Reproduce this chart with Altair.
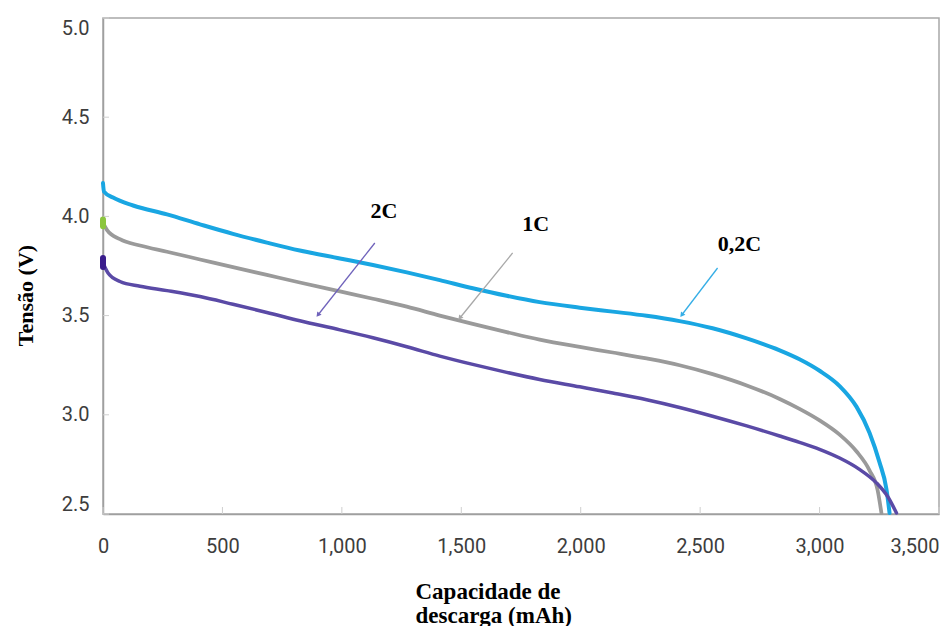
import math
import altair as alt
import pandas as pd

# Plot area and axis ranges
W, H = 836, 496
X_MAX, Y_MIN, Y_MAX = 3500, 2.5, 5.0

SERIES = ["0,2C", "1C", "2C"]
COLORS = ["#19a6e2", "#9a9a9a", "#5a4aa6"]
WIDTHS = [4, 3.5, 2.5]

# Discharge curves: capacity (mAh) and voltage (V)
cap_02c = [0, 4, 42, 126, 268, 406, 544, 686, 824, 992, 1130, 1272, 1410, 1548,
           1690, 1828, 1996, 2134, 2276, 2414, 2552, 2695, 2833, 2916, 3000,
           3084, 3155, 3209, 3251, 3280, 3293]
v_02c = [4.168, 4.125, 4.095, 4.055, 4.010, 3.960, 3.912, 3.868, 3.828, 3.788,
         3.755, 3.718, 3.679, 3.638, 3.600, 3.568, 3.540, 3.520, 3.499, 3.472,
         3.436, 3.385, 3.325, 3.280, 3.222, 3.145, 3.040, 2.910, 2.760, 2.625,
         2.505]

cap_1c = [0, 17, 71, 155, 268, 406, 544, 686, 824, 992, 1130, 1272, 1410, 1548,
          1690, 1828, 1996, 2134, 2276, 2414, 2552, 2695, 2833, 2916, 3000,
          3084, 3155, 3209, 3243, 3259]
v_1c = [3.967, 3.931, 3.885, 3.853, 3.822, 3.783, 3.744, 3.705, 3.667, 3.622,
        3.585, 3.545, 3.500, 3.458, 3.417, 3.379, 3.342, 3.314, 3.284, 3.250,
        3.205, 3.148, 3.080, 3.030, 2.972, 2.900, 2.815, 2.720, 2.620, 2.505]

cap_2c = [0, 21, 71, 155, 268, 406, 544, 686, 824, 992, 1130, 1272, 1410, 1548,
          1690, 1828, 1996, 2134, 2276, 2414, 2552, 2695, 2833, 2916, 3000,
          3084, 3167, 3238, 3285, 3322]
v_2c = [3.765, 3.715, 3.672, 3.648, 3.626, 3.596, 3.557, 3.516, 3.474, 3.428,
        3.388, 3.343, 3.296, 3.254, 3.214, 3.178, 3.141, 3.110, 3.076, 3.037,
        2.993, 2.944, 2.893, 2.861, 2.826, 2.782, 2.725, 2.657, 2.588, 2.505]

# Start-of-discharge markers (x, y top, y bottom, colour)
mark_x = [0, 0]
mark_y = [3.985, 3.79]
mark_y2 = [3.950, 3.745]
mark_color = ["#8cc63f", "#3a1d8c"]

# Callout labels and their arrows
label_text = ["2C", "1C", "0,2C"]
label_x = [1176, 1812, 2665]
label_y = [4.027, 3.962, 3.861]
arrow_x0 = [1138, 1715, 2573]
arrow_y0 = [3.866, 3.816, 3.740]
arrow_x1 = [900, 1494, 2423]
arrow_y1 = [3.503, 3.488, 3.503]
arrow_color = ["#6f62bb", "#a8a8a8", "#35aee6"]

x_ticks = [0, 500, 1000, 1500, 2000, 2500, 3000, 3500]
y_ticks = [2.5, 3.0, 3.5, 4.0, 4.5, 5.0]

rows = []
for name, caps, volts in [(SERIES[0], cap_02c, v_02c),
                          (SERIES[1], cap_1c, v_1c),
                          (SERIES[2], cap_2c, v_2c)]:
    for i, (c, v) in enumerate(zip(caps, volts)):
        rows.append({"serie": name, "i": i, "cap": c, "v": v})
curves = pd.DataFrame(rows)


def head_angle(x0, y0, x1, y1):
    dx = (x1 - x0) * W / X_MAX
    dy = -(y1 - y0) * H / (Y_MAX - Y_MIN)
    return math.degrees(math.atan2(dx, -dy)) % 360


arrows = pd.DataFrame({
    "x0": arrow_x0, "y0": arrow_y0, "x1": arrow_x1, "y1": arrow_y1,
    "color": arrow_color,
    "angle": [head_angle(a, b, c, d) for a, b, c, d in
              zip(arrow_x0, arrow_y0, arrow_x1, arrow_y1)],
})
labels = pd.DataFrame({"t": label_text, "x": label_x, "y": label_y})
marks = pd.DataFrame({"x": mark_x, "y": mark_y, "y2": mark_y2, "c": mark_color})

xs = alt.Scale(domain=[0, X_MAX], nice=False, zero=False)
ys = alt.Scale(domain=[Y_MIN, Y_MAX], nice=False, zero=False)

x_axis = alt.Axis(
    values=x_ticks, format=",d", grid=False, ticks=False, tickSize=0,
    labelPadding=22, labelFont="Roboto", labelFontSize=20, labelColor="#3d3d3d",
    labelAlign=alt.expr("datum.value == 3500 ? 'right' : 'center'"),
    domainColor="#9f9f9f", domainWidth=1.5,
    title=["Capacidade de", "descarga (mAh)"], titleFont="Liberation Serif",
    titleFontWeight="bold", titleFontSize=23, titleColor="#000000",
    titleAlign="left", titleBaseline="alphabetic", titleX=312, titleY=84,
    titleLineHeight=24,
)
y_axis = alt.Axis(
    values=y_ticks, format=".1f", grid=False, ticks=False, tickSize=0,
    labelPadding=14, labelFont="Roboto", labelFontSize=20, labelColor="#3d3d3d",
    labelFlush=True, domainColor="#9f9f9f", domainWidth=1.5,
    title="Tensão (V)", titleFont="Liberation Serif", titleFontWeight="bold",
    titleFontSize=22, titleColor="#000000", titleAngle=270,
    titleBaseline="alphabetic", titleAlign="center", titleX=-71, titleY=277,
)

lines = alt.Chart(curves).mark_line(interpolate="monotone", strokeCap="round").encode(
    x=alt.X("cap:Q", scale=xs, axis=x_axis),
    y=alt.Y("v:Q", scale=ys, axis=y_axis),
    color=alt.Color("serie:N", scale=alt.Scale(domain=SERIES, range=COLORS), legend=None),
    strokeWidth=alt.StrokeWidth("serie:N", scale=alt.Scale(domain=SERIES, range=WIDTHS), legend=None),
    order=alt.Order("i:Q"),
)

# Inner tick marks
ytick_df = pd.DataFrame({"v": y_ticks})
xtick_df = pd.DataFrame({"cap": x_ticks})
yticks = alt.Chart(ytick_df).mark_rule(color="#cfcfcf", strokeWidth=1).encode(
    y=alt.Y("v:Q", scale=ys), x=alt.value(0), x2=alt.value(6))
xticks = alt.Chart(xtick_df).mark_rule(color="#cfcfcf", strokeWidth=1).encode(
    x=alt.X("cap:Q", scale=xs), y=alt.value(H), y2=alt.value(H - 7))

starts = alt.Chart(marks).mark_rule(strokeWidth=6, strokeCap="round").encode(
    x=alt.X("x:Q", scale=xs), y=alt.Y("y:Q", scale=ys), y2="y2:Q",
    color=alt.Color("c:N", scale=None))

arrow_lines = alt.Chart(arrows).mark_rule(strokeWidth=1.3).encode(
    x=alt.X("x0:Q", scale=xs), y=alt.Y("y0:Q", scale=ys), x2="x1:Q", y2="y1:Q",
    color=alt.Color("color:N", scale=None))
arrow_heads = alt.Chart(arrows).mark_point(shape="triangle-up", filled=True, size=30, opacity=1).encode(
    x=alt.X("x1:Q", scale=xs), y=alt.Y("y1:Q", scale=ys),
    angle=alt.Angle("angle:Q", scale=None),
    color=alt.Color("color:N", scale=None))

texts = alt.Chart(labels).mark_text(
    font="Liberation Serif", fontWeight="bold", fontSize=22, color="#000000",
    align="center", baseline="middle").encode(
    x=alt.X("x:Q", scale=xs), y=alt.Y("y:Q", scale=ys), text="t:N")

chart = alt.layer(yticks, xticks, lines, starts, arrow_lines, arrow_heads, texts).properties(
    width=W, height=H,
    autosize=alt.AutoSizeParams(type="none"),
    padding={"left": 103, "top": 18, "right": 2, "bottom": 112},
    background="#ffffff",
).configure_view(stroke="#a8a8a8", strokeWidth=1.5)

chart.save("out.html", embed_options={"renderer": "svg", "actions": False})
